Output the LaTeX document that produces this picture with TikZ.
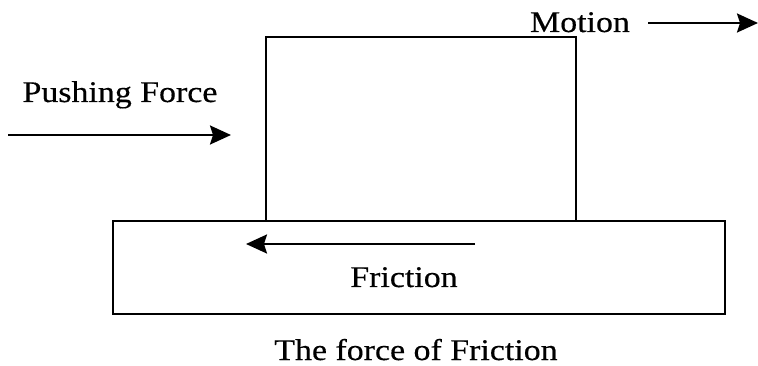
\documentclass[tikz,border=0pt]{standalone}
\usepackage{fontspec}
\setmainfont[FakeStretch=1.13,FakeBold=0.4]{Liberation Serif}
\usetikzlibrary{arrows.meta}
\begin{document}
\begin{tikzpicture}[x=1pt,y=-1pt,
  line width=2.3pt,
  lbl/.style={anchor=base,inner sep=0pt,font=\fontsize{30}{36}\selectfont},
  blk/.style={draw,line width=2.3pt,inner sep=0pt,anchor=north west},
  arr/.style={-{Stealth[length=21pt,width=19pt,inset=3pt]},line width=2.3pt}]
\useasboundingbox (0,0) rectangle (758,366);
\node[blk,minimum width=310pt,minimum height=184pt] (box) at (265,36) {};
\node[blk,minimum width=612pt,minimum height=93pt] (base) at (112,220) {};
\node[lbl] (push) at (120,102) {Pushing Force};
\node[lbl] (motion) at (580,32) {Motion};
\node[lbl] (fric) at (404,287) {Friction};
\node[lbl] (cap) at (416,360) {The force of Friction};
\coordinate (p1) at (8,135);
\coordinate (p2) at (231,135);
\coordinate (m1) at (648,23);
\coordinate (m2) at (758,23);
\coordinate (f1) at (475,244);
\coordinate (f2) at (246,244);
\draw[arr] (p1) -- (p2);
\draw[arr] (m1) -- (m2);
\draw[arr] (f1) -- (f2);
\end{tikzpicture}
\end{document}
